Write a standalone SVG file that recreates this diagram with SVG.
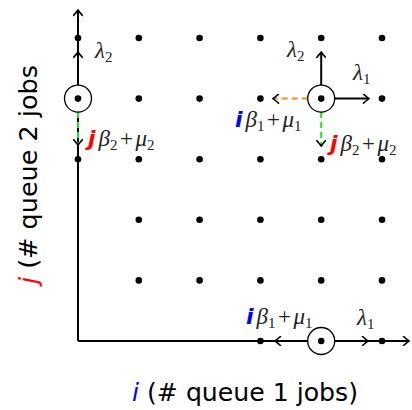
<svg xmlns="http://www.w3.org/2000/svg" width="412" height="410" viewBox="0 0 412 410">
<style>
.dot{fill:#000}
.ring{fill:#fff;stroke:#000;stroke-width:1.3}
.ax{stroke:#000;stroke-width:2;fill:none}
.ar{stroke:#000;stroke-width:2;fill:none}
.og{stroke:#ff8a1f;stroke-width:2;fill:none;stroke-dasharray:6 4}
.gr{stroke:#1ee01e;stroke-width:2;fill:none;stroke-dasharray:6 4}
.m{font-family:"Liberation Serif",serif;font-style:italic;font-size:23px;fill:#222}
.s{font-style:normal;font-size:15px}
.p{font-style:normal}
.iv{font-family:"DejaVu Sans",sans-serif;font-style:italic;font-weight:bold;fill:#0000ff;font-size:22px}
.jv{font-family:"DejaVu Sans",sans-serif;font-style:italic;font-weight:bold;fill:#ff0000;font-size:22px}
.lab{font-family:"DejaVu Sans",sans-serif;font-size:24px;fill:#000}
</style>
<defs>
<marker id="tip" viewBox="-7 -5 8 10" refX="0" refY="0" markerWidth="8" markerHeight="10" markerUnits="userSpaceOnUse" orient="auto">
<path d="M-5.5,-4.5 Q-1.5,-1 0,0 Q-1.5,1 -5.5,4.5" fill="none" stroke="#000" stroke-width="1.6" stroke-dasharray="none" stroke-linecap="round"/>
</marker>
</defs>
<g id="connectors">
<line class="ax" x1="78" y1="341" x2="78" y2="10" marker-end="url(#tip)"/>
<line class="ax" x1="78" y1="341" x2="409" y2="341" marker-end="url(#tip)"/>
<line class="ar" x1="78" y1="85" x2="78" y2="52" marker-end="url(#tip)"/>
<line class="gr" x1="78" y1="112" x2="78" y2="145" marker-end="url(#tip)"/>
<line class="ar" x1="321.2" y1="85" x2="321.2" y2="52" marker-end="url(#tip)"/>
<line class="ar" x1="334.7" y1="98.6" x2="369" y2="98.6" marker-end="url(#tip)"/>
<line class="og" x1="307.7" y1="98.6" x2="273" y2="98.6" marker-end="url(#tip)"/>
<line class="gr" x1="321.2" y1="112" x2="321.2" y2="146" marker-end="url(#tip)"/>
<line class="ar" x1="307.7" y1="341" x2="275" y2="341" marker-end="url(#tip)"/>
<line class="ar" x1="334.7" y1="341" x2="368" y2="341" marker-end="url(#tip)"/>
</g>
<g id="grid">
<circle class="dot" cx="138.8" cy="38" r="3.3"/><circle class="dot" cx="199.6" cy="38" r="3.3"/><circle class="dot" cx="260.4" cy="38" r="3.3"/><circle class="dot" cx="321.2" cy="38" r="3.3"/><circle class="dot" cx="382" cy="38" r="3.3"/>
<circle class="dot" cx="138.8" cy="98.6" r="3.3"/><circle class="dot" cx="199.6" cy="98.6" r="3.3"/><circle class="dot" cx="260.4" cy="98.6" r="3.3"/><circle class="dot" cx="382" cy="98.6" r="3.3"/>
<circle class="dot" cx="138.8" cy="159.2" r="3.3"/><circle class="dot" cx="199.6" cy="159.2" r="3.3"/><circle class="dot" cx="260.4" cy="159.2" r="3.3"/><circle class="dot" cx="321.2" cy="159.2" r="3.3"/><circle class="dot" cx="382" cy="159.2" r="3.3"/>
<circle class="dot" cx="138.8" cy="219.8" r="3.3"/><circle class="dot" cx="199.6" cy="219.8" r="3.3"/><circle class="dot" cx="260.4" cy="219.8" r="3.3"/><circle class="dot" cx="321.2" cy="219.8" r="3.3"/><circle class="dot" cx="382" cy="219.8" r="3.3"/>
<circle class="dot" cx="138.8" cy="280.4" r="3.3"/><circle class="dot" cx="199.6" cy="280.4" r="3.3"/><circle class="dot" cx="260.4" cy="280.4" r="3.3"/><circle class="dot" cx="321.2" cy="280.4" r="3.3"/><circle class="dot" cx="382" cy="280.4" r="3.3"/>
<circle class="dot" cx="78" cy="38" r="3.3"/><circle class="dot" cx="78" cy="159.2" r="3.3"/>
<circle class="dot" cx="260.4" cy="341" r="3.3"/><circle class="dot" cx="382" cy="341" r="3.3"/>
</g>
<g id="node-left">
<circle class="ring" cx="78" cy="98.6" r="13.5"/>
<circle class="dot" cx="78" cy="98.6" r="3.3"/>
</g>
<g id="node-interior">
<circle class="ring" cx="321.2" cy="98.6" r="13.5"/>
<circle class="dot" cx="321.2" cy="98.6" r="3.3"/>
</g>
<g id="node-bottom">
<circle class="ring" cx="321.2" cy="341" r="13.5"/>
<circle class="dot" cx="321.2" cy="341" r="3.3"/>
</g>
<g id="labels">
<text class="m" x="95" y="58">λ<tspan class="s" dy="4">2</tspan></text>
<text class="m" x="88" y="146"><tspan class="jv">j</tspan><tspan dx="3">β</tspan><tspan class="s" dy="4">2</tspan><tspan class="p" dy="-4" dx="2.5">+</tspan><tspan dx="2.5">μ</tspan><tspan class="s" dy="4">2</tspan></text>
<text class="m" x="287" y="57">λ<tspan class="s" dy="4">2</tspan></text>
<text class="m" x="353" y="80">λ<tspan class="s" dy="4">1</tspan></text>
<text class="m" x="235" y="127"><tspan class="iv">i</tspan><tspan dx="3">β</tspan><tspan class="s" dy="4">1</tspan><tspan class="p" dy="-4" dx="2.5">+</tspan><tspan dx="2.5">μ</tspan><tspan class="s" dy="4">1</tspan></text>
<text class="m" x="330" y="151"><tspan class="jv">j</tspan><tspan dx="3">β</tspan><tspan class="s" dy="4">2</tspan><tspan class="p" dy="-4" dx="2.5">+</tspan><tspan dx="2.5">μ</tspan><tspan class="s" dy="4">2</tspan></text>
<text class="m" x="246" y="324"><tspan class="iv">i</tspan><tspan dx="3">β</tspan><tspan class="s" dy="4">1</tspan><tspan class="p" dy="-4" dx="2.5">+</tspan><tspan dx="2.5">μ</tspan><tspan class="s" dy="4">1</tspan></text>
<text class="m" x="357" y="325">λ<tspan class="s" dy="4">1</tspan></text>
<text class="lab" x="132" y="401" textLength="226" lengthAdjust="spacingAndGlyphs"><tspan style="font-style:italic;fill:#0000ff">i</tspan> (# queue 1 jobs)</text>
<text class="lab" transform="translate(37,284) rotate(-90)" x="0" y="0" textLength="219" lengthAdjust="spacingAndGlyphs"><tspan style="font-style:italic;fill:#ff0000">j</tspan> (# queue 2 jobs</text>
</g>
</svg>
